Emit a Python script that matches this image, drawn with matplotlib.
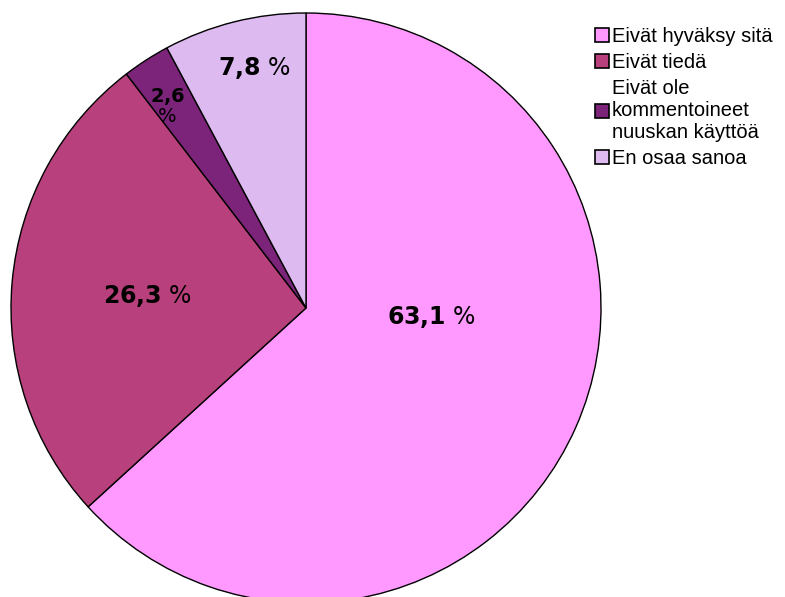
import matplotlib.pyplot as plt
from matplotlib.patches import Patch

plt.rcParams['mathtext.fontset'] = 'dejavusans'

# Data
categories = ["Eivät hyväksy sitä", "Eivät tiedä",
              "Eivät ole\nkommentoineet\nnuuskan käyttöä", "En osaa sanoa"]
values = [63.1, 26.3, 2.6, 7.8]
colors = ["#FF99FF", "#B8407C", "#7B2479", "#DDBAF0"]

# label positions (data coords, pie radius = 1) and sizes
label_pos = [(0.424, -0.03), (-0.536, 0.04), (-0.47, 0.685), (-0.176, 0.815)]
label_size = [17, 17, 14, 17]

fig = plt.figure(figsize=(7.85, 5.97), dpi=100)
# pie centre at (306, 308) px, radius 295 px
r_px = 295
ax = fig.add_axes([(306 - r_px) / 785, (597 - 308 - r_px) / 597,
                   2 * r_px / 785, 2 * r_px / 597])
wedges, _ = ax.pie(values, colors=colors, startangle=90, counterclock=False,
                   radius=1, wedgeprops=dict(edgecolor="black", linewidth=1))
ax.set_xlim(-1, 1)
ax.set_ylim(-1, 1)
ax.set_aspect("auto")
ax.axis("off")

for v, (x, y), fs in zip(values, label_pos, label_size):
    num = f"{v:.1f}".replace(".", "{,}")
    if v < 5:
        txt = "$\\mathbf{" + num + "}$\n%"
    else:
        txt = "$\\mathbf{" + num + "}$ %"
    ax.text(x, y, txt, ha="center", va="center", fontsize=fs,
            family="DejaVu Sans", linespacing=1.0)

handles = [Patch(facecolor=c, edgecolor="black", linewidth=1.2) for c in colors]
fig.legend(handles, categories, loc="upper left",
           bbox_to_anchor=(595 / 785, 1 - 27 / 597),
           frameon=False, prop=dict(family="Liberation Sans", size=14.5),
           handlelength=0.7, handleheight=0.7, handletextpad=0.15,
           labelspacing=0.35, borderpad=0, borderaxespad=0)

fig.savefig("out.png", dpi=100)
